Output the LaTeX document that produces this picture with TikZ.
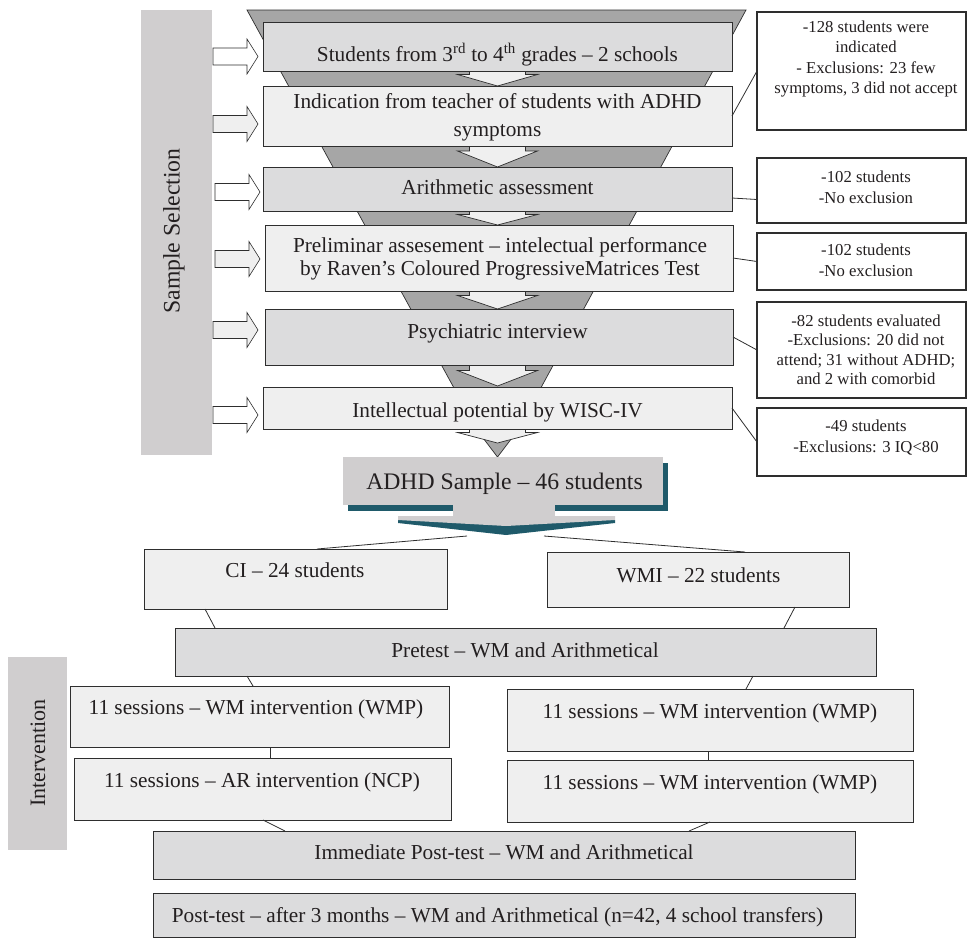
\documentclass[tikz,border=0pt]{standalone}
\usepackage{fontspec}
\setmainfont{Liberation Serif}
\usetikzlibrary{calc}
\definecolor{boxdark}{HTML}{DCDCDD}
\definecolor{boxlight}{HTML}{EFEFEF}
\definecolor{funnelgray}{HTML}{A6A6A6}
\definecolor{bargray}{HTML}{D0CECF}
\definecolor{shadowteal}{HTML}{1F5A6A}
\definecolor{linecol}{HTML}{2E2E2E}
\definecolor{textcol}{HTML}{231F20}
\newcommand\mybox[6]{\node[#6, minimum width={#4-#2}, minimum height={#5-#3}] (#1) at ({(#2+#4)/2},{(#3+#5)/2}) {};}
\newcommand\leftarrowshape[3]{\draw[blockarr, fill=#3] (#2,{#1-8.5}) -- ({#2+34},{#1-8.5}) -- ({#2+34},{#1-17.5}) -- ({#2+45},#1) -- ({#2+34},{#1+17.5}) -- ({#2+34},{#1+8.5}) -- (#2,{#1+8.5}) -- cycle;}
\newcommand\downnotch[4]{\draw[notch] ({#1-28},{#2-3}) -- ({#1-28},{#2+#3}) -- ({#1-40},{#2+#3}) -- (#1,#4) -- ({#1+40},{#2+#3}) -- ({#1+28},{#2+#3}) -- ({#1+28},{#2-3});}
\begin{document}
\begin{tikzpicture}[x=1pt,y=-1pt,
  box/.style={draw=linecol, line width=0.8pt, rectangle, inner sep=0pt, outer sep=0pt},
  darkbox/.style={box, fill=boxdark},
  lightbox/.style={box, fill=boxlight},
  notebox/.style={draw=linecol, line width=1.2pt, fill=white, rectangle, inner sep=0pt, outer sep=0pt},
  bar/.style={fill=bargray, draw=none, rectangle, inner sep=0pt, outer sep=0pt},
  txt/.style={font=\fontsize{21.3}{23}\selectfont, text=textcol, inner sep=0pt, outer sep=0pt, align=center},
  smalltxt/.style={font=\fontsize{16.7}{20.5}\selectfont, text=textcol, inner sep=0pt, outer sep=0pt, align=center},
  conn/.style={draw=linecol, line width=0.8pt},
  blockarr/.style={draw=linecol, line width=0.6pt, line join=miter},
  notch/.style={draw=linecol, line width=0.7pt, fill=boxlight, line join=miter},
  funnel/.style={draw=linecol, line width=0.7pt, fill=funnelgray, line join=miter}]
\useasboundingbox (0,0) rectangle (971,938);

% side bars
\mybox{selbar}{141}{10}{212}{455}{bar}
\node[txt, font=\fontsize{23.7}{26}\selectfont, rotate=90] (seltxt) at (174,231) {Sample Selection};
\mybox{intbar}{8}{657}{67}{850}{bar}
\node[txt, font=\fontsize{22}{24}\selectfont, rotate=90] (inttxt) at (38,753) {Intervention};

% funnel
\draw[funnel] (247,10) -- (746,10) -- (518,430) -- (497.5,457) -- (477,430) -- cycle;

% down notches between steps
\downnotch{497.5}{71}{3.5}{86}
\downnotch{497.5}{146}{5}{167}
\downnotch{497.5}{211}{3.5}{225}
\downnotch{497.5}{291}{4.5}{309}
\downnotch{497.5}{365}{5.5}{386}
\downnotch{497.5}{429}{3.5}{443}

% steps
\mybox{b1}{263}{22}{732}{71}{darkbox}
\mybox{b2}{263}{86}{732}{146}{lightbox}
\mybox{b3}{263}{167}{732}{211}{darkbox}
\mybox{b4}{265}{225}{733}{291}{lightbox}
\mybox{b5}{265}{309}{733}{365}{darkbox}
\mybox{b6}{263}{387}{732}{429}{lightbox}
\node[txt, anchor=base] (t1) at (497.5,61) {Students from 3\textsuperscript{rd} to 4\textsuperscript{th} grades – 2 schools};
\node[txt, anchor=base, font=\fontsize{21.3}{28}\selectfont] (t2) at (497.5,136) {Indication from teacher of students with ADHD\\symptoms};
\node[txt, anchor=base] (t3) at (497.5,194) {Arithmetic assessment};
\node[txt, anchor=base] (t4) at (500,275) {Preliminar assesement – intelectual performance\\by Raven’s Coloured ProgressiveMatrices Test};
\node[txt, anchor=base] (t5) at (497.5,338) {Psychiatric interview};
\node[txt, anchor=base] (t6) at (497.5,417) {Intellectual potential by WISC-IV};

% left arrows
\leftarrowshape{56.5}{213}{white}
\leftarrowshape{124}{213}{boxlight}
\leftarrowshape{192}{215}{white}
\leftarrowshape{259}{215}{boxlight}
\leftarrowshape{330}{213}{boxlight}
\leftarrowshape{415}{213}{white}

% note boxes
\mybox{r1}{757}{12}{966}{130}{notebox}
\mybox{r2}{757}{158}{966}{223}{notebox}
\mybox{r3}{757}{233}{966}{290}{notebox}
\mybox{r4}{757}{302}{966}{398}{notebox}
\mybox{r5}{757}{408}{966}{476}{notebox}
\node[smalltxt, anchor=base] (n1) at (866,93.5) {-128 students were\\indicated\\- Exclusions: 23 few\\symptoms, 3 did not accept};
\node[smalltxt, anchor=base] (n2) at (866,203) {-102 students\\-No exclusion};
\node[smalltxt, anchor=base] (n3) at (866,276) {-102 students\\-No exclusion};
\node[smalltxt, anchor=base, font=\fontsize{16.7}{19.5}\selectfont] (n4) at (866,384.5) {-82 students evaluated\\-Exclusions: 20 did not\\attend; 31 without ADHD;\\and 2 with comorbid};
\node[smalltxt, anchor=base] (n5) at (866,452) {-49 students\\-Exclusions: 3 IQ<80};
\draw[conn] (b2.east) -- (r1.west);
\draw[conn] ([yshift=-9pt]b3.east) -- ([yshift=-9pt]r2.west);
\draw[conn] (b4.east) -- (r3.west);
\draw[conn] (b5.east) -- (r4.west);
\draw[conn] (b6.east) -- (r5.west);

% ADHD sample
\fill[shadowteal] (348,463) rectangle (668,511);
\mybox{adhd}{343}{457}{663}{505}{bar}
\fill[bargray] (453,504) rectangle (555,517);
\fill[shadowteal] (398,520) -- (615,520) -- (615,523) -- (506,535) -- (398,523) -- cycle;
\fill[bargray] (398,516) -- (615,516) -- (615,520) -- (506,526) -- (398,520) -- cycle;
\node[txt, anchor=base, font=\fontsize{23.7}{26}\selectfont] (adhdtxt) at (504.5,489) {ADHD Sample – 46 students};
\coordinate (adhdL) at (467,536);
\coordinate (adhdR) at (544,536);

% groups
\mybox{ci}{144}{549}{447}{609}{lightbox}
\mybox{wmi}{547}{552}{849}{607}{lightbox}
\mybox{pre}{175}{628}{876}{676}{darkbox}
\node[txt, anchor=base] (citxt) at (295,577) {CI – 24 students};
\node[txt, anchor=base] (wmitxt) at (698.5,582) {WMI – 22 students};
\node[txt, anchor=base] (pretxt) at (525,657) {Pretest – WM and Arithmetical};
\draw[conn] (adhdL) -- ($(ci.north)+(21.5,0)$);
\draw[conn] (adhdR) -- ($(wmi.north)+(47,0)$);
\draw[conn] ($(ci.south west)+(61,0)$) -- ($(pre.north west)+(40,0)$);
\draw[conn] ($(wmi.south west)+(248,0)$) -- ($(pre.north west)+(609,0)$);

% intervention
\mybox{ia}{70}{686}{449}{747}{lightbox}
\mybox{ib}{74}{758}{451}{820}{lightbox}
\mybox{ic}{507}{689}{913}{751}{lightbox}
\mybox{id}{507}{760}{913}{822}{lightbox}
\node[txt, anchor=base] (iatxt) at (256,714) {11 sessions – WM intervention (WMP)};
\node[txt, anchor=base] (ibtxt) at (262,787) {11 sessions – AR intervention (NCP)};
\node[txt, anchor=base] (ictxt) at (710,718) {11 sessions – WM intervention (WMP)};
\node[txt, anchor=base] (idtxt) at (710,789) {11 sessions – WM intervention (WMP)};
\draw[conn] ($(pre.south west)+(72,0)$) -- ($(ia.north west)+(183,0)$);
\draw[conn] ($(pre.south west)+(578,0)$) -- ($(ic.north west)+(239,0)$);
\draw[conn] ($(ia.south west)+(200,0)$) -- ($(ib.north west)+(196,0)$);
\draw[conn] ($(ic.south west)+(201,0)$) -- ($(id.north west)+(201,0)$);

% post-tests
\mybox{imm}{153}{831}{855}{879}{darkbox}
\mybox{post}{153}{893}{855}{937}{darkbox}
\node[txt, anchor=base] (immtxt) at (504,859) {Immediate Post-test – WM and Arithmetical};
\node[txt, anchor=base] (posttxt) at (497.5,922) {Post-test – after 3 months – WM and Arithmetical (n=42, 4 school transfers)};
\draw[conn] ($(ib.south west)+(189,0)$) -- ($(imm.north west)+(132,0)$);
\draw[conn] ($(id.south west)+(203,0)$) -- ($(imm.north west)+(536,0)$);
\end{tikzpicture}
\end{document}
